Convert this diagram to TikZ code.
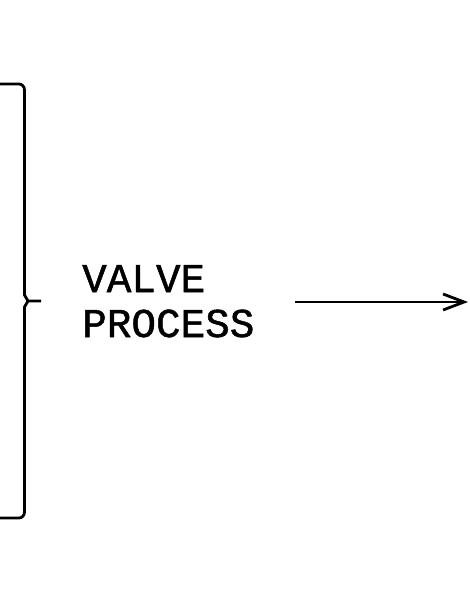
\documentclass[tikz,border=0pt]{standalone}
\usepackage{fontspec}
\newfontfamily\cadfont[FakeBold=1.2]{Liberation Mono}
\usetikzlibrary{arrows.meta}
\begin{document}
\begin{tikzpicture}[x=1pt,y=-1pt,
  ln/.style={line width=2.8pt},
  lbl/.style={font=\cadfont\fontsize{41}{45}\selectfont, inner sep=0pt, anchor=base west}]
\useasboundingbox (0,0) rectangle (470,594);
% brace
\coordinate (bt) at (0,84);
\coordinate (bb) at (0,518);
\coordinate (tip) at (41,301);
\draw[ln, line join=round] (bt) -- (19,84) to[out=0,in=90] (24.5,90) -- (24.5,295) -- (28,301) -- (tip);
\draw[ln, line join=round] (28,301) -- (24.5,307) -- (24.5,512) to[out=270,in=0] (19,518) -- (bb);
% text
\node[lbl] (v) at (82,292) {VALVE};
\node[lbl] (p) at (82,337) {PROCESS};
% arrow
\coordinate (a1) at (295,302);
\coordinate (a2) at (468,302);
\draw[ln, -{Straight Barb[length=21pt,width=16pt,line width=2.8pt]}] (a1) -- (a2);
\end{tikzpicture}
\end{document}
